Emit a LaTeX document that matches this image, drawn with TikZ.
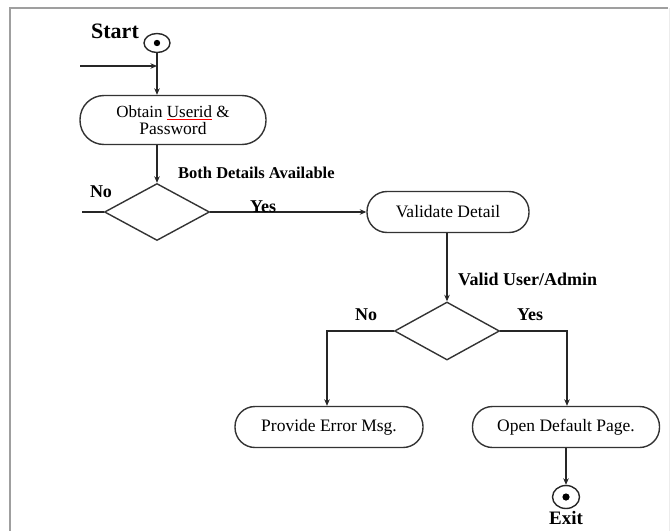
\documentclass[tikz,border=0pt]{standalone}
\usepackage{fontspec}
\setmainfont{Liberation Serif}
\usetikzlibrary{shapes.geometric,arrows.meta}
\newcommand\fsz[1]{\fontsize{#1}{#1}\selectfont}
\newcommand\redul[1]{\setbox0\hbox{#1}\rlap{\color{red}\rule[-2.8pt]{\wd0}{1.1pt}}\box0}
\begin{document}
\begin{tikzpicture}[x=1pt,y=-1pt,
  flow/.style={draw=black!85, line width=1.4pt},
  arr/.style={flow, -{Stealth[length=6.5pt,width=5.5pt]}},
  act/.style={draw=black!80, line width=1.4pt, fill=white, align=center, inner sep=0pt, font=\fsz{17.5}},
  dec/.style={diamond, draw=black!80, line width=1.4pt, inner sep=0pt, minimum width=105pt, minimum height=57pt},
  lbl/.style={font=\fsz{18}\bfseries, inner sep=0pt},
  endpt/.style={ellipse, draw=black!85, line width=1.4pt, inner sep=0pt}
]
\useasboundingbox (0,0) rectangle (671,530);
% frame
\draw[gray!75, line width=2.5pt] (10,540) -- (10,8) -- (668,8);
\draw[gray!15, line width=1pt] (669.5,8) -- (669.5,540);

% start
\node[endpt, minimum width=26pt, minimum height=19pt] (start) at (157,43) {};
\fill[black] (start.center) circle (3.2pt);
\node[lbl, font=\fsz{22}\bfseries] (startl) at (115,31) {Start};

% activities
\node[act, rounded corners=24pt, minimum width=186pt, minimum height=49pt] (obtain) at (173,120)
  {\fsz{17}\baselineskip=14pt Obtain \redul{Userid}\ \&\\ Password};
\node[act, rounded corners=20pt, minimum width=162pt, minimum height=41pt] (valid) at (448,212) {Validate Detail};
\node[act, rounded corners=20pt, minimum width=188pt, minimum height=41pt] (err) at (329,427) {Provide Error Msg.};
\node[act, rounded corners=20pt, minimum width=187pt, minimum height=41pt] (open) at (566,427) {Open Default Page.};

% decisions
\node[dec] (d1) at (157,212) {};
\node[dec, minimum height=58pt] (d2) at (447,331) {};

% exit
\node[endpt, minimum width=27pt, minimum height=23pt] (exit) at (566,497) {};
\fill[black] (exit.center) circle (3.6pt);
\node[lbl, font=\fsz{19}\bfseries, anchor=base] (exitl) at (566,524) {Exit};

% free ends
\coordinate (inA) at (80,66);
\coordinate (jn) at (157,66);
\coordinate (noEnd) at (82,212);

% connectors
\draw[flow] (start.south) -- (jn);
\draw[arr] (jn) -- (obtain.north -| start.south);
\draw[arr] (inA) -- (jn);
\draw[arr] (obtain.south -| d1.north) -- (d1.north);
\draw[flow] (d1.west) -- (noEnd);
\draw[arr] (d1.east) -- (valid.west);
\draw[arr] (valid.south -| d2.north) -- (d2.north);
\draw[arr] (d2.west) -| ([xshift=-2pt]err.north);
\draw[arr] (d2.east) -| ([xshift=1pt]open.north);
\draw[arr] (open.south) -- (exit.north);

% labels
\node[lbl, anchor=west, font=\fsz{16.5}\bfseries] (bothl) at (178,173) {Both Details Available};
\node[lbl] (no1) at (101,192) {No};
\node[lbl] (yes1) at (263,207) {Yes};
\node[lbl, anchor=west] (validl) at (458,279) {Valid User/Admin};
\node[lbl] (no2) at (366,315) {No};
\node[lbl] (yes2) at (530,315) {Yes};
\end{tikzpicture}
\end{document}
